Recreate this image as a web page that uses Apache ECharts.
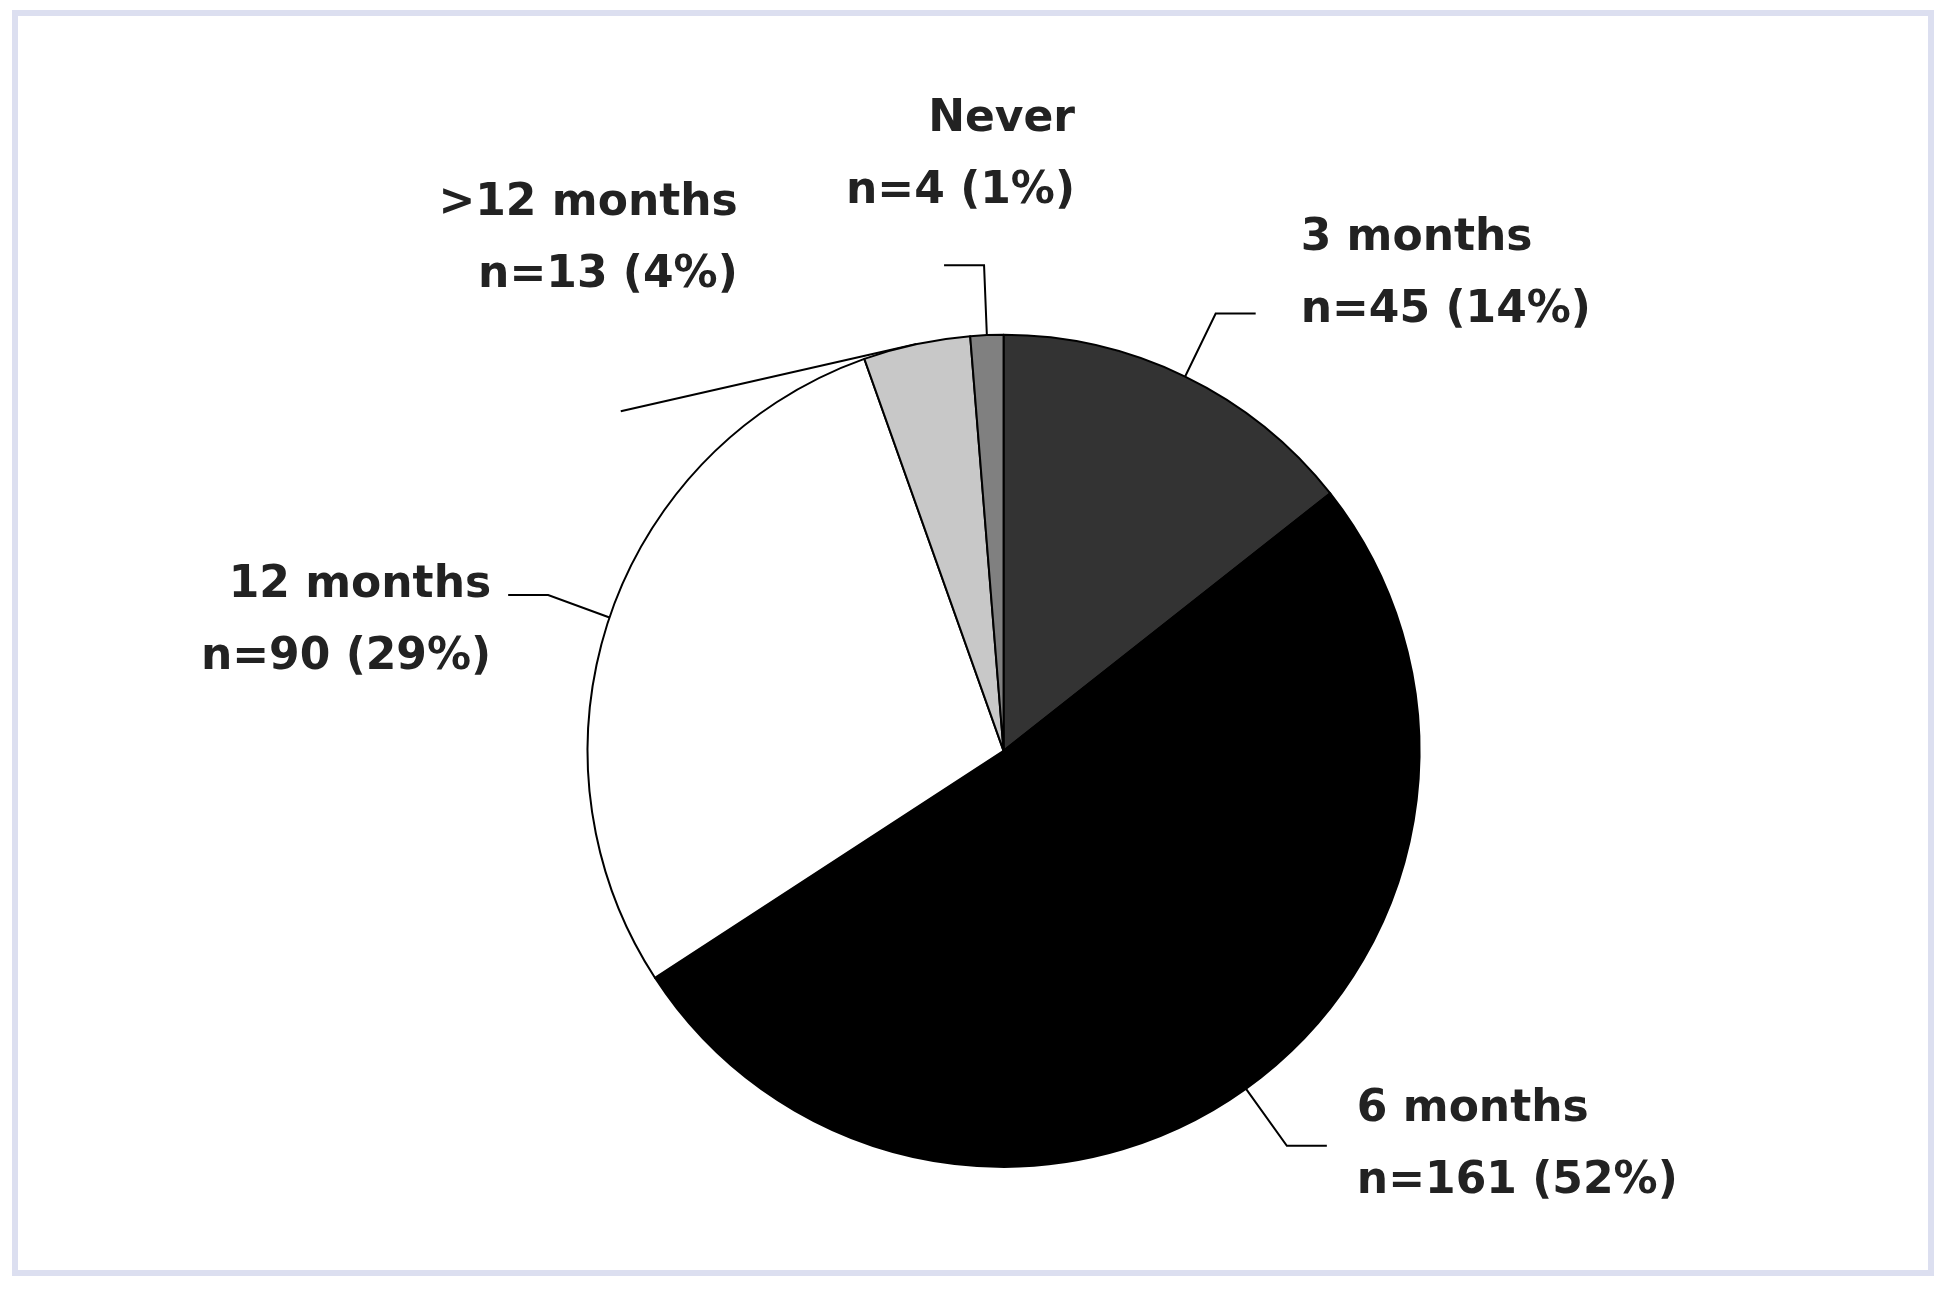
<!DOCTYPE html>
<html>
<head>
<meta charset="utf-8">
<script src="https://cdn.jsdelivr.net/npm/echarts@6/dist/echarts.min.js"></script>
<style>
  html, body { margin: 0; padding: 0; background: #fff; }
  #frame {
    position: absolute; left: 12px; top: 10px; width: 1922px; height: 1266px;
    border: 6px solid #dcdff0; box-sizing: border-box; background: #fff;
  }
  #main { width: 100%; height: 100%; }
</style>
</head>
<body>
<div id="frame"><div id="main"></div></div>
<script>
const categories = ["3 months", "6 months", "12 months", ">12 months", "Never"];
const counts = [45, 161, 90, 13, 4];
const percents = [14, 52, 29, 4, 1];
const colors = ["#333333", "#000000", "#ffffff", "#c8c8c8", "#808080"];
// nudges for the labels so they sit where the original puts them
const labelShiftX = [40, 25, -12, 122, 136];
const labelShiftY = [-39, 0, 26, -172, -110];

const myChart = echarts.init(document.getElementById("main"));

myChart.setOption({
  animation: false,
  series: [
    {
      type: "pie",
      center: ["51.6%", "58.6%"],
      radius: 416,
      startAngle: 90,
      clockwise: true,
      data: categories.map((name, i) => ({
        name: name,
        value: counts[i],
        itemStyle: { color: colors[i] },
      })),
      itemStyle: { borderColor: "#000", borderWidth: 2 },
      label: {
        formatter: (p) =>
          `${p.name}\nn=${counts[p.dataIndex]} (${percents[p.dataIndex]}%)`,
        fontFamily: "DejaVu Sans, sans-serif",
        fontWeight: "bold",
        fontSize: 44,
        lineHeight: 72,
        color: "#222",
        align: "center",
      },
      labelLine: {
        show: true,
        length: 70,
        length2: 40,
        lineStyle: { color: "#000", width: 2 },
      },
      labelLayout: (params) => ({
        dx: labelShiftX[params.dataIndex],
        dy: labelShiftY[params.dataIndex],
      }),
    },
  ],
});
</script>
</body>
</html>
